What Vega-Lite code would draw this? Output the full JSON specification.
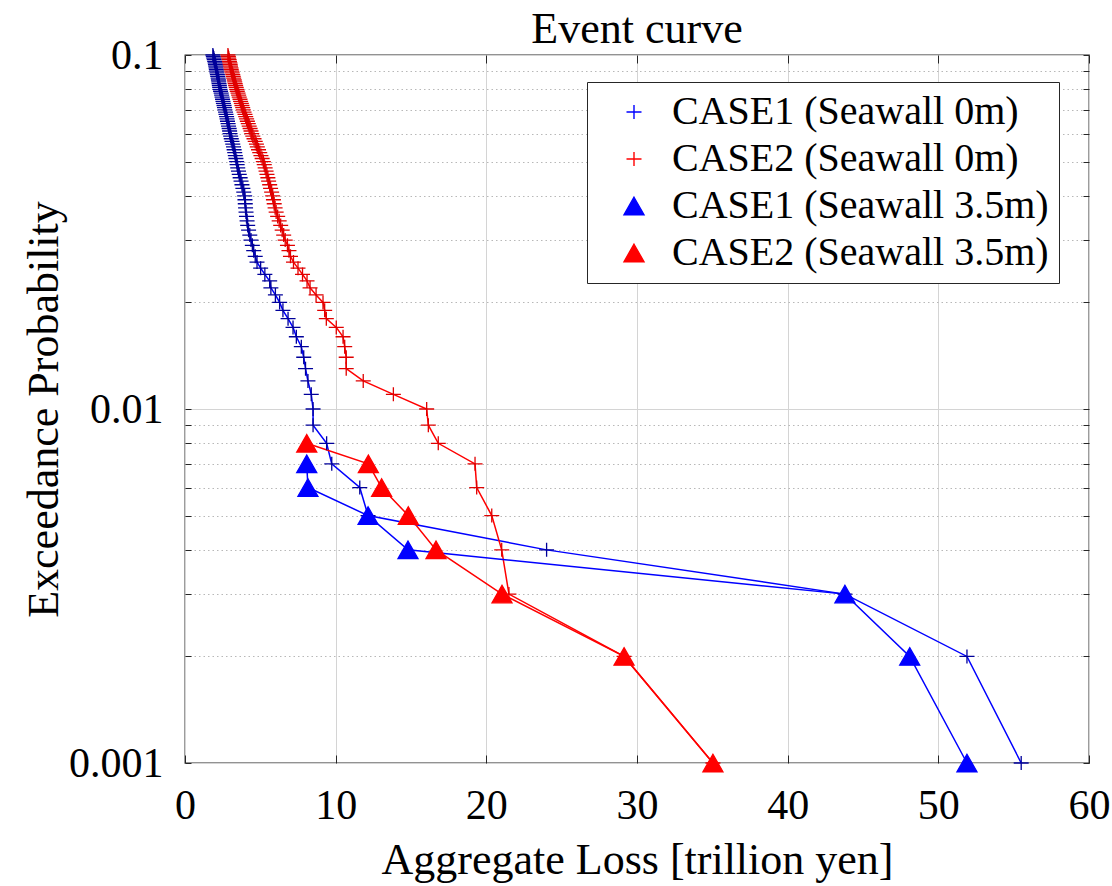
{
"$schema": "https://vega.github.io/schema/vega-lite/v6.json",
"width": 904, "height": 708,
"autosize": {"type": "none"},
"padding": {"left": 185, "top": 55, "right": 23, "bottom": 123},
"background": "white",
"title": {"text": "Event curve", "font": "Liberation Serif", "fontSize": 44, "fontWeight": "normal", "color": "#000000", "frame": "group", "anchor": "middle", "offset": -18},
"config": {
  "view": {"stroke": "#262626", "strokeWidth": 1.3},
  "axis": {"labelFont": "Liberation Serif", "labelFontSize": 42, "labelColor": "#000000", "titleFont": "Liberation Serif", "titleFontSize": 44, "titleFontWeight": "normal", "titleColor": "#000000", "tickColor": "#262626", "tickWidth": 1, "domain": false, "gridColor": "#d4d4d4", "gridWidth": 1},
  "legend": {"title": null, "orient": "none", "legendX": 402, "legendY": 27, "padding": 10, "strokeColor": "#262626", "fillColor": "white",
    "labelFont": "Liberation Serif", "labelFontSize": 40, "labelColor": "#000000", "labelLimit": 600,
    "symbolSize": 100, "symbolStrokeWidth": 1.4, "symbolOffset": 17, "labelOffset": 18, "rowPadding": 7}
},
"data": {"values": [
{"series":"CASE1 (Seawall 0m)","p":0.001,"loss":55.5},{"series":"CASE1 (Seawall 0m)","p":0.002,"loss":51.9},{"series":"CASE1 (Seawall 0m)","p":0.003,"loss":43.8},{"series":"CASE1 (Seawall 0m)","p":0.004,"loss":24.0},{"series":"CASE1 (Seawall 0m)","p":0.005,"loss":12.15},{"series":"CASE1 (Seawall 0m)","p":0.006,"loss":11.6},{"series":"CASE1 (Seawall 0m)","p":0.007,"loss":9.74},{"series":"CASE1 (Seawall 0m)","p":0.008,"loss":9.4},{"series":"CASE1 (Seawall 0m)","p":0.009,"loss":8.5},{"series":"CASE1 (Seawall 0m)","p":0.01,"loss":8.5},
{"series":"CASE1 (Seawall 0m)","p":0.011,"loss":8.38},{"series":"CASE1 (Seawall 0m)","p":0.012,"loss":8.16},{"series":"CASE1 (Seawall 0m)","p":0.013,"loss":8.0},{"series":"CASE1 (Seawall 0m)","p":0.014,"loss":7.88},{"series":"CASE1 (Seawall 0m)","p":0.015,"loss":7.72},{"series":"CASE1 (Seawall 0m)","p":0.016,"loss":7.39},{"series":"CASE1 (Seawall 0m)","p":0.017,"loss":7.17},{"series":"CASE1 (Seawall 0m)","p":0.018,"loss":6.84},{"series":"CASE1 (Seawall 0m)","p":0.019,"loss":6.5},{"series":"CASE1 (Seawall 0m)","p":0.02,"loss":6.28},
{"series":"CASE1 (Seawall 0m)","p":0.021,"loss":6.0},{"series":"CASE1 (Seawall 0m)","p":0.022,"loss":5.7},{"series":"CASE1 (Seawall 0m)","p":0.023,"loss":5.62},{"series":"CASE1 (Seawall 0m)","p":0.024,"loss":5.3},{"series":"CASE1 (Seawall 0m)","p":0.025,"loss":5.02},{"series":"CASE1 (Seawall 0m)","p":0.026,"loss":4.78},{"series":"CASE1 (Seawall 0m)","p":0.027,"loss":4.66},{"series":"CASE1 (Seawall 0m)","p":0.028,"loss":4.56},{"series":"CASE1 (Seawall 0m)","p":0.029,"loss":4.47},{"series":"CASE1 (Seawall 0m)","p":0.03,"loss":4.38},
{"series":"CASE1 (Seawall 0m)","p":0.031,"loss":4.3},{"series":"CASE1 (Seawall 0m)","p":0.032,"loss":4.22},{"series":"CASE1 (Seawall 0m)","p":0.033,"loss":4.16},{"series":"CASE1 (Seawall 0m)","p":0.034,"loss":4.12},{"series":"CASE1 (Seawall 0m)","p":0.035,"loss":4.08},{"series":"CASE1 (Seawall 0m)","p":0.036,"loss":4.05},{"series":"CASE1 (Seawall 0m)","p":0.037,"loss":4.02},{"series":"CASE1 (Seawall 0m)","p":0.038,"loss":4.0},{"series":"CASE1 (Seawall 0m)","p":0.039,"loss":3.98},{"series":"CASE1 (Seawall 0m)","p":0.04,"loss":3.96},
{"series":"CASE1 (Seawall 0m)","p":0.041,"loss":3.9},{"series":"CASE1 (Seawall 0m)","p":0.042,"loss":3.84},{"series":"CASE1 (Seawall 0m)","p":0.043,"loss":3.78},{"series":"CASE1 (Seawall 0m)","p":0.044,"loss":3.72},{"series":"CASE1 (Seawall 0m)","p":0.045,"loss":3.66},{"series":"CASE1 (Seawall 0m)","p":0.046,"loss":3.6},{"series":"CASE1 (Seawall 0m)","p":0.047,"loss":3.55},{"series":"CASE1 (Seawall 0m)","p":0.048,"loss":3.5},{"series":"CASE1 (Seawall 0m)","p":0.049,"loss":3.46},{"series":"CASE1 (Seawall 0m)","p":0.05,"loss":3.43},
{"series":"CASE1 (Seawall 0m)","p":0.051,"loss":3.38},{"series":"CASE1 (Seawall 0m)","p":0.052,"loss":3.34},{"series":"CASE1 (Seawall 0m)","p":0.053,"loss":3.3},{"series":"CASE1 (Seawall 0m)","p":0.054,"loss":3.26},{"series":"CASE1 (Seawall 0m)","p":0.055,"loss":3.22},{"series":"CASE1 (Seawall 0m)","p":0.056,"loss":3.17},{"series":"CASE1 (Seawall 0m)","p":0.057,"loss":3.12},{"series":"CASE1 (Seawall 0m)","p":0.058,"loss":3.07},{"series":"CASE1 (Seawall 0m)","p":0.059,"loss":3.03},{"series":"CASE1 (Seawall 0m)","p":0.06,"loss":2.99},
{"series":"CASE1 (Seawall 0m)","p":0.061,"loss":2.96},{"series":"CASE1 (Seawall 0m)","p":0.062,"loss":2.93},{"series":"CASE1 (Seawall 0m)","p":0.063,"loss":2.89},{"series":"CASE1 (Seawall 0m)","p":0.064,"loss":2.86},{"series":"CASE1 (Seawall 0m)","p":0.065,"loss":2.82},{"series":"CASE1 (Seawall 0m)","p":0.066,"loss":2.79},{"series":"CASE1 (Seawall 0m)","p":0.067,"loss":2.76},{"series":"CASE1 (Seawall 0m)","p":0.068,"loss":2.72},{"series":"CASE1 (Seawall 0m)","p":0.069,"loss":2.69},{"series":"CASE1 (Seawall 0m)","p":0.07,"loss":2.65},
{"series":"CASE1 (Seawall 0m)","p":0.071,"loss":2.62},{"series":"CASE1 (Seawall 0m)","p":0.072,"loss":2.59},{"series":"CASE1 (Seawall 0m)","p":0.073,"loss":2.55},{"series":"CASE1 (Seawall 0m)","p":0.074,"loss":2.52},{"series":"CASE1 (Seawall 0m)","p":0.075,"loss":2.49},{"series":"CASE1 (Seawall 0m)","p":0.076,"loss":2.46},{"series":"CASE1 (Seawall 0m)","p":0.077,"loss":2.43},{"series":"CASE1 (Seawall 0m)","p":0.078,"loss":2.4},{"series":"CASE1 (Seawall 0m)","p":0.079,"loss":2.36},{"series":"CASE1 (Seawall 0m)","p":0.08,"loss":2.32},
{"series":"CASE1 (Seawall 0m)","p":0.081,"loss":2.3},{"series":"CASE1 (Seawall 0m)","p":0.082,"loss":2.28},{"series":"CASE1 (Seawall 0m)","p":0.083,"loss":2.26},{"series":"CASE1 (Seawall 0m)","p":0.084,"loss":2.24},{"series":"CASE1 (Seawall 0m)","p":0.085,"loss":2.22},{"series":"CASE1 (Seawall 0m)","p":0.086,"loss":2.2},{"series":"CASE1 (Seawall 0m)","p":0.087,"loss":2.17},{"series":"CASE1 (Seawall 0m)","p":0.088,"loss":2.15},{"series":"CASE1 (Seawall 0m)","p":0.089,"loss":2.12},{"series":"CASE1 (Seawall 0m)","p":0.09,"loss":2.1},
{"series":"CASE1 (Seawall 0m)","p":0.091,"loss":2.08},{"series":"CASE1 (Seawall 0m)","p":0.092,"loss":2.06},{"series":"CASE1 (Seawall 0m)","p":0.093,"loss":2.04},{"series":"CASE1 (Seawall 0m)","p":0.094,"loss":2.02},{"series":"CASE1 (Seawall 0m)","p":0.095,"loss":2.0},{"series":"CASE1 (Seawall 0m)","p":0.096,"loss":1.97},{"series":"CASE1 (Seawall 0m)","p":0.097,"loss":1.94},{"series":"CASE1 (Seawall 0m)","p":0.098,"loss":1.91},{"series":"CASE1 (Seawall 0m)","p":0.099,"loss":1.88},{"series":"CASE1 (Seawall 0m)","p":0.1,"loss":1.85},
{"series":"CASE2 (Seawall 0m)","p":0.001,"loss":35.04},{"series":"CASE2 (Seawall 0m)","p":0.002,"loss":29.14},{"series":"CASE2 (Seawall 0m)","p":0.003,"loss":21.5},{"series":"CASE2 (Seawall 0m)","p":0.004,"loss":21.02},{"series":"CASE2 (Seawall 0m)","p":0.005,"loss":20.36},{"series":"CASE2 (Seawall 0m)","p":0.006,"loss":19.36},{"series":"CASE2 (Seawall 0m)","p":0.007,"loss":19.25},{"series":"CASE2 (Seawall 0m)","p":0.008,"loss":16.81},{"series":"CASE2 (Seawall 0m)","p":0.009,"loss":16.15},{"series":"CASE2 (Seawall 0m)","p":0.01,"loss":16.04},
{"series":"CASE2 (Seawall 0m)","p":0.011,"loss":13.83},{"series":"CASE2 (Seawall 0m)","p":0.012,"loss":11.83},{"series":"CASE2 (Seawall 0m)","p":0.013,"loss":10.7},{"series":"CASE2 (Seawall 0m)","p":0.014,"loss":10.7},{"series":"CASE2 (Seawall 0m)","p":0.015,"loss":10.6},{"series":"CASE2 (Seawall 0m)","p":0.016,"loss":10.49},{"series":"CASE2 (Seawall 0m)","p":0.017,"loss":10.04},{"series":"CASE2 (Seawall 0m)","p":0.018,"loss":9.38},{"series":"CASE2 (Seawall 0m)","p":0.019,"loss":9.27},{"series":"CASE2 (Seawall 0m)","p":0.02,"loss":9.16},
{"series":"CASE2 (Seawall 0m)","p":0.021,"loss":8.7},{"series":"CASE2 (Seawall 0m)","p":0.022,"loss":8.3},{"series":"CASE2 (Seawall 0m)","p":0.023,"loss":8.1},{"series":"CASE2 (Seawall 0m)","p":0.024,"loss":7.8},{"series":"CASE2 (Seawall 0m)","p":0.025,"loss":7.5},{"series":"CASE2 (Seawall 0m)","p":0.026,"loss":7.2},{"series":"CASE2 (Seawall 0m)","p":0.027,"loss":7.0},{"series":"CASE2 (Seawall 0m)","p":0.028,"loss":6.9},{"series":"CASE2 (Seawall 0m)","p":0.029,"loss":6.8},{"series":"CASE2 (Seawall 0m)","p":0.03,"loss":6.65},
{"series":"CASE2 (Seawall 0m)","p":0.031,"loss":6.55},{"series":"CASE2 (Seawall 0m)","p":0.032,"loss":6.45},{"series":"CASE2 (Seawall 0m)","p":0.033,"loss":6.35},{"series":"CASE2 (Seawall 0m)","p":0.034,"loss":6.25},{"series":"CASE2 (Seawall 0m)","p":0.035,"loss":6.15},{"series":"CASE2 (Seawall 0m)","p":0.036,"loss":6.05},{"series":"CASE2 (Seawall 0m)","p":0.037,"loss":5.98},{"series":"CASE2 (Seawall 0m)","p":0.038,"loss":5.92},{"series":"CASE2 (Seawall 0m)","p":0.039,"loss":5.87},{"series":"CASE2 (Seawall 0m)","p":0.04,"loss":5.82},
{"series":"CASE2 (Seawall 0m)","p":0.041,"loss":5.75},{"series":"CASE2 (Seawall 0m)","p":0.042,"loss":5.68},{"series":"CASE2 (Seawall 0m)","p":0.043,"loss":5.62},{"series":"CASE2 (Seawall 0m)","p":0.044,"loss":5.55},{"series":"CASE2 (Seawall 0m)","p":0.045,"loss":5.5},{"series":"CASE2 (Seawall 0m)","p":0.046,"loss":5.44},{"series":"CASE2 (Seawall 0m)","p":0.047,"loss":5.38},{"series":"CASE2 (Seawall 0m)","p":0.048,"loss":5.32},{"series":"CASE2 (Seawall 0m)","p":0.049,"loss":5.26},{"series":"CASE2 (Seawall 0m)","p":0.05,"loss":5.2},
{"series":"CASE2 (Seawall 0m)","p":0.051,"loss":5.12},{"series":"CASE2 (Seawall 0m)","p":0.052,"loss":5.04},{"series":"CASE2 (Seawall 0m)","p":0.053,"loss":4.96},{"series":"CASE2 (Seawall 0m)","p":0.054,"loss":4.88},{"series":"CASE2 (Seawall 0m)","p":0.055,"loss":4.8},{"series":"CASE2 (Seawall 0m)","p":0.056,"loss":4.74},{"series":"CASE2 (Seawall 0m)","p":0.057,"loss":4.66},{"series":"CASE2 (Seawall 0m)","p":0.058,"loss":4.58},{"series":"CASE2 (Seawall 0m)","p":0.059,"loss":4.5},{"series":"CASE2 (Seawall 0m)","p":0.06,"loss":4.43},
{"series":"CASE2 (Seawall 0m)","p":0.061,"loss":4.38},{"series":"CASE2 (Seawall 0m)","p":0.062,"loss":4.32},{"series":"CASE2 (Seawall 0m)","p":0.063,"loss":4.26},{"series":"CASE2 (Seawall 0m)","p":0.064,"loss":4.2},{"series":"CASE2 (Seawall 0m)","p":0.065,"loss":4.14},{"series":"CASE2 (Seawall 0m)","p":0.066,"loss":4.09},{"series":"CASE2 (Seawall 0m)","p":0.067,"loss":4.03},{"series":"CASE2 (Seawall 0m)","p":0.068,"loss":3.98},{"series":"CASE2 (Seawall 0m)","p":0.069,"loss":3.92},{"series":"CASE2 (Seawall 0m)","p":0.07,"loss":3.87},
{"series":"CASE2 (Seawall 0m)","p":0.071,"loss":3.83},{"series":"CASE2 (Seawall 0m)","p":0.072,"loss":3.78},{"series":"CASE2 (Seawall 0m)","p":0.073,"loss":3.74},{"series":"CASE2 (Seawall 0m)","p":0.074,"loss":3.69},{"series":"CASE2 (Seawall 0m)","p":0.075,"loss":3.65},{"series":"CASE2 (Seawall 0m)","p":0.076,"loss":3.6},{"series":"CASE2 (Seawall 0m)","p":0.077,"loss":3.56},{"series":"CASE2 (Seawall 0m)","p":0.078,"loss":3.52},{"series":"CASE2 (Seawall 0m)","p":0.079,"loss":3.47},{"series":"CASE2 (Seawall 0m)","p":0.08,"loss":3.43},
{"series":"CASE2 (Seawall 0m)","p":0.081,"loss":3.4},{"series":"CASE2 (Seawall 0m)","p":0.082,"loss":3.36},{"series":"CASE2 (Seawall 0m)","p":0.083,"loss":3.33},{"series":"CASE2 (Seawall 0m)","p":0.084,"loss":3.3},{"series":"CASE2 (Seawall 0m)","p":0.085,"loss":3.27},{"series":"CASE2 (Seawall 0m)","p":0.086,"loss":3.23},{"series":"CASE2 (Seawall 0m)","p":0.087,"loss":3.2},{"series":"CASE2 (Seawall 0m)","p":0.088,"loss":3.17},{"series":"CASE2 (Seawall 0m)","p":0.089,"loss":3.13},{"series":"CASE2 (Seawall 0m)","p":0.09,"loss":3.1},
{"series":"CASE2 (Seawall 0m)","p":0.091,"loss":3.07},{"series":"CASE2 (Seawall 0m)","p":0.092,"loss":3.05},{"series":"CASE2 (Seawall 0m)","p":0.093,"loss":3.02},{"series":"CASE2 (Seawall 0m)","p":0.094,"loss":3.0},{"series":"CASE2 (Seawall 0m)","p":0.095,"loss":2.98},{"series":"CASE2 (Seawall 0m)","p":0.096,"loss":2.95},{"series":"CASE2 (Seawall 0m)","p":0.097,"loss":2.93},{"series":"CASE2 (Seawall 0m)","p":0.098,"loss":2.9},{"series":"CASE2 (Seawall 0m)","p":0.099,"loss":2.88},{"series":"CASE2 (Seawall 0m)","p":0.1,"loss":2.85},
{"series":"CASE1 (Seawall 3.5m)","p":0.001,"loss":51.9},{"series":"CASE1 (Seawall 3.5m)","p":0.002,"loss":48.1},{"series":"CASE1 (Seawall 3.5m)","p":0.003,"loss":43.8},{"series":"CASE1 (Seawall 3.5m)","p":0.004,"loss":14.8},{"series":"CASE1 (Seawall 3.5m)","p":0.005,"loss":12.15},{"series":"CASE1 (Seawall 3.5m)","p":0.006,"loss":8.16},{"series":"CASE1 (Seawall 3.5m)","p":0.007,"loss":8.08},
{"series":"CASE2 (Seawall 3.5m)","p":0.001,"loss":35.04},{"series":"CASE2 (Seawall 3.5m)","p":0.002,"loss":29.14},{"series":"CASE2 (Seawall 3.5m)","p":0.003,"loss":21.04},{"series":"CASE2 (Seawall 3.5m)","p":0.004,"loss":16.66},{"series":"CASE2 (Seawall 3.5m)","p":0.005,"loss":14.82},{"series":"CASE2 (Seawall 3.5m)","p":0.006,"loss":13.05},{"series":"CASE2 (Seawall 3.5m)","p":0.007,"loss":12.17},{"series":"CASE2 (Seawall 3.5m)","p":0.008,"loss":8.08}
]},
"layer": [
  {
    "mark": {"type": "line", "strokeWidth": 1.5},
    "encoding": {
      "x": {"field": "loss", "type": "quantitative", "scale": {"domain": [0, 60], "nice": false, "zero": false},
        "axis": {"orient": "bottom", "values": [0, 10, 20, 30, 40, 50, 60], "grid": true, "tickSize": -8, "labelPadding": 30, "labelFlush": false, "labelOverlap": false, "title": "Aggregate Loss [trillion yen]", "titleY": 110, "titleBaseline": "alphabetic"}},
      "y": {"field": "p", "type": "quantitative", "scale": {"type": "log", "domain": [0.001, 0.1], "nice": false},
        "axis": {"orient": "left", "values": [0.001, 0.002, 0.003, 0.004, 0.005, 0.006, 0.007, 0.008, 0.009, 0.01, 0.02, 0.03, 0.04, 0.05, 0.06, 0.07, 0.08, 0.09, 0.1],
          "labelExpr": "datum.value == 0.001 ? '0.001' : datum.value == 0.01 ? '0.01' : datum.value == 0.1 ? '0.1' : ''",
          "labelOverlap": false, "labelFlush": false, "grid": true,
          "gridColor": {"condition": {"test": "datum.value == 0.001 || datum.value == 0.01 || datum.value == 0.1", "value": "#d4d4d4"}, "value": "#b8b8b8"},
          "gridDash": {"condition": {"test": "datum.value == 0.001 || datum.value == 0.01 || datum.value == 0.1", "value": []}, "value": [1.5, 3]},
          "tickSize": -6, "labelPadding": 28,
          "title": "Exceedance Probability", "titleX": -128, "titleY": 354, "titleAngle": -90, "titleAlign": "center", "titleBaseline": "alphabetic"}},
      "color": {"field": "series", "type": "nominal", "scale": {"domain": ["CASE1 (Seawall 0m)", "CASE2 (Seawall 0m)", "CASE1 (Seawall 3.5m)", "CASE2 (Seawall 3.5m)"], "range": ["#0000ff", "#ff0000", "#0000ff", "#ff0000"]}},
      "order": {"field": "p", "type": "quantitative"}
    }
  },
  {
    "mark": {"type": "point", "filled": true, "size": 100, "strokeWidth": 1.3, "opacity": 1},
    "encoding": {
      "x": {"field": "loss", "type": "quantitative",
        "axis": {"orient": "top", "values": [0, 10, 20, 30, 40, 50, 60], "labels": false, "grid": false, "tickSize": -8, "title": null}},
      "y": {"field": "p", "type": "quantitative",
        "axis": {"orient": "right", "values": [0.001, 0.002, 0.003, 0.004, 0.005, 0.006, 0.007, 0.008, 0.009, 0.01, 0.02, 0.03, 0.04, 0.05, 0.06, 0.07, 0.08, 0.09, 0.1], "labels": false, "grid": false, "tickSize": -6, "title": null}},
      "fill": {"field": "series", "type": "nominal", "scale": {"domain": ["CASE1 (Seawall 0m)", "CASE2 (Seawall 0m)", "CASE1 (Seawall 3.5m)", "CASE2 (Seawall 3.5m)"], "range": ["#0000ff", "#ff0000", "#0000ff", "#ff0000"]}},
      "stroke": {"field": "series", "type": "nominal", "scale": {"domain": ["CASE1 (Seawall 0m)", "CASE2 (Seawall 0m)", "CASE1 (Seawall 3.5m)", "CASE2 (Seawall 3.5m)"], "range": ["#00009a", "#e00000", "#0000ff", "#ff0000"]}},
      "shape": {"field": "series", "type": "nominal",
        "scale": {"domain": ["CASE1 (Seawall 0m)", "CASE2 (Seawall 0m)", "CASE1 (Seawall 3.5m)", "CASE2 (Seawall 3.5m)"], "range": ["M-1.5,0L1.5,0M0,-1.4L0,1.4", "M-1.5,0L1.5,0M0,-1.4L0,1.4", "M0,-1.75L2,1.75L-2,1.75Z", "M0,-1.75L2,1.75L-2,1.75Z"]}}
    }
  }
],
"resolve": {"axis": {"x": "independent", "y": "independent"}}
}
